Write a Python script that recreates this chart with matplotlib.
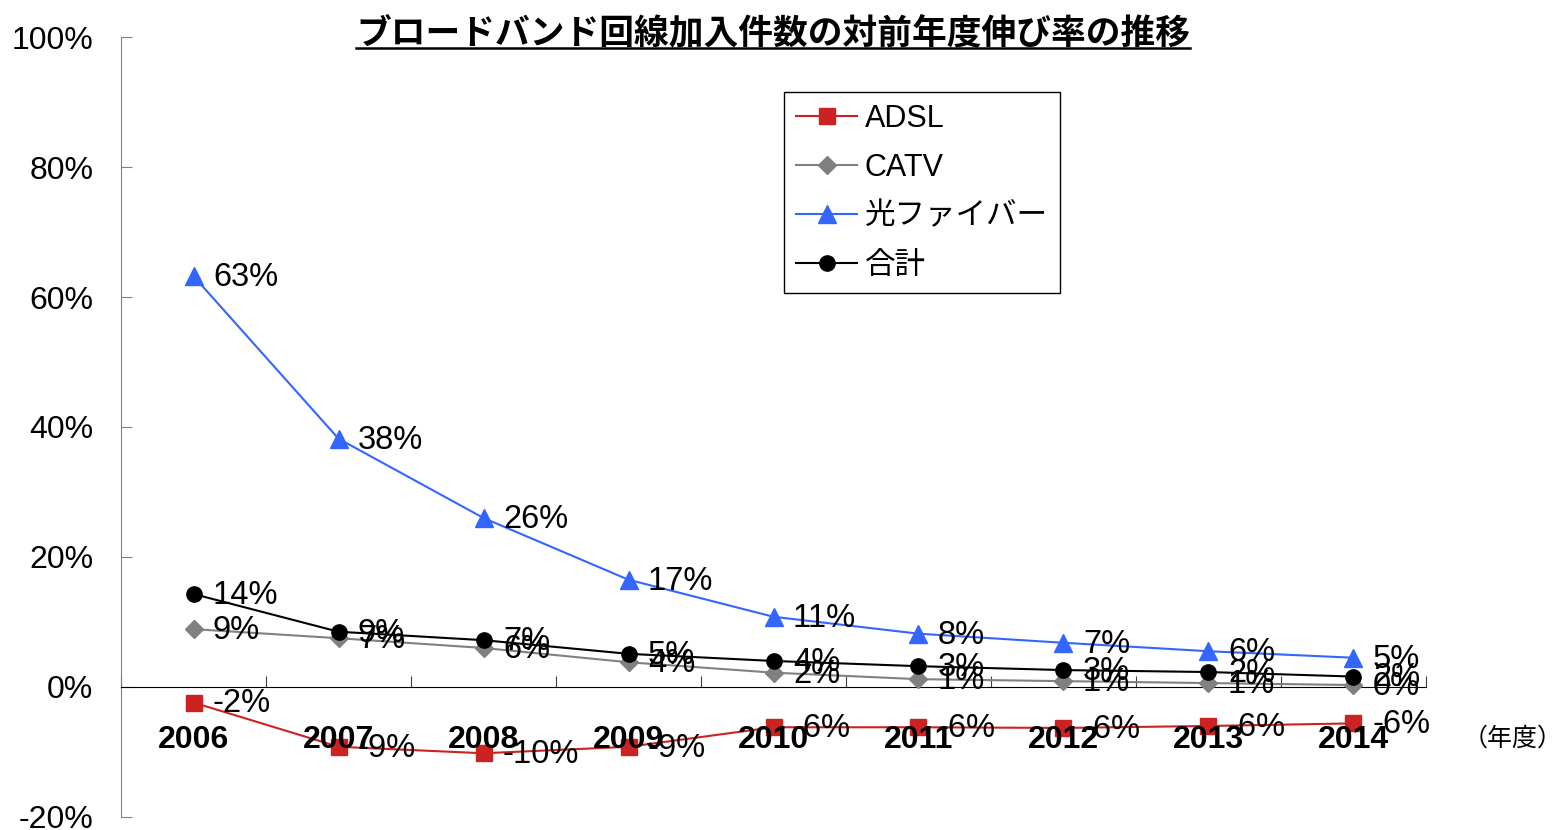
import matplotlib.pyplot as plt
from matplotlib.lines import Line2D
from matplotlib.ticker import FixedLocator, NullFormatter

plt.rcParams['font.family'] = ['Liberation Sans', 'Noto Sans CJK JP']

years = ['2006', '2007', '2008', '2009', '2010', '2011', '2012', '2013', '2014']
adsl = [-2.4, -9.2, -10.2, -9.2, -6.2, -6.2, -6.3, -6.0, -5.6]
catv = [8.9, 7.5, 6.0, 3.8, 2.2, 1.2, 0.9, 0.6, 0.3]
fiber = [63.2, 38.2, 26.0, 16.5, 10.8, 8.2, 6.8, 5.5, 4.5]
total = [14.3, 8.5, 7.2, 5.1, 4.0, 3.2, 2.6, 2.3, 1.6]

adsl_lbl = ['-2%', '-9%', '-10%', '-9%', '-6%', '-6%', '-6%', '-6%', '-6%']
catv_lbl = ['9%', '7%', '6%', '4%', '2%', '1%', '1%', '1%', '0%']
fiber_lbl = ['63%', '38%', '26%', '17%', '11%', '8%', '7%', '6%', '5%']
total_lbl = ['14%', '9%', '7%', '5%', '4%', '3%', '3%', '2%', '2%']

fig = plt.figure(figsize=(15.54, 8.3), dpi=100)
ax = fig.add_axes([0.0779, 0.0157, 0.8397, 0.9397])

x = list(range(len(years)))

series = [
    ('ADSL', adsl, adsl_lbl, '#CC2222', 's', 11),
    ('CATV', catv, catv_lbl, '#808080', 'D', 9),
    ('光ファイバー', fiber, fiber_lbl, '#3366FF', '^', 13),
    ('合計', total, total_lbl, '#000000', 'o', 11),
]

for name, vals, lbls, col, mk, ms in series:
    ax.plot(x, vals, color=col, marker=mk, markersize=ms, linewidth=1.5,
            label=name, zorder=3)

for name, vals, lbls, col, mk, ms in series:
    for xi, v, t in zip(x, vals, lbls):
        ax.annotate(t, xy=(xi, v), xytext=(14, -1), textcoords='offset points',
                    ha='left', va='center', fontsize=23.5, color='black', zorder=5)

ax.set_xlim(-0.5, 8.5)
ax.set_ylim(-20, 100)
ax.set_yticks([-20, 0, 20, 40, 60, 80, 100])
ax.set_yticklabels(['-20%', '0%', '20%', '40%', '60%', '80%', '100%'], fontsize=23)
ax.tick_params(axis='y', direction='in', length=8, pad=20, color='#808080')

ax.spines['top'].set_visible(False)
ax.spines['right'].set_visible(False)
ax.spines['left'].set_color('#808080')
ax.spines['bottom'].set_position(('data', 0))
ax.spines['bottom'].set_color('black')
ax.xaxis.set_major_locator(FixedLocator([i + 0.5 for i in range(-1, 9)]))
ax.xaxis.set_major_formatter(NullFormatter())
ax.tick_params(axis='x', direction='in', length=8, color='#404040')

for xi, yr in zip(x, years):
    ax.annotate(yr, xy=(xi, 0), xytext=(0, -38), textcoords='offset points',
                ha='center', va='center', fontsize=23, fontweight='bold', zorder=4)
ax.annotate('（年度）', xy=(9.1, 0), xytext=(0, -37), textcoords='offset points',
            ha='center', va='center', fontsize=18, annotation_clip=False)

leg = ax.legend(loc='upper left', bbox_to_anchor=(0.508, 0.93), fontsize=22,
                frameon=True, fancybox=False, edgecolor='black', framealpha=1,
                handlelength=2.0, handletextpad=0.25, borderpad=0.4,
                labelspacing=0.62, borderaxespad=0)
leg.get_frame().set_linewidth(1.0)

title = fig.text(0.4975, 0.96, 'ブロードバンド回線加入件数の対前年度伸び率の推移',
                 ha='center', va='center', fontsize=25, fontweight='bold',
                 family=['Noto Sans CJK JP'])
fig.canvas.draw()
bb = title.get_window_extent().transformed(fig.transFigure.inverted())
fig.add_artist(Line2D([bb.x0, bb.x1], [bb.y0 + 0.003, bb.y0 + 0.003],
                      color='black', linewidth=1.8))

fig.savefig('out.png', dpi=100)
